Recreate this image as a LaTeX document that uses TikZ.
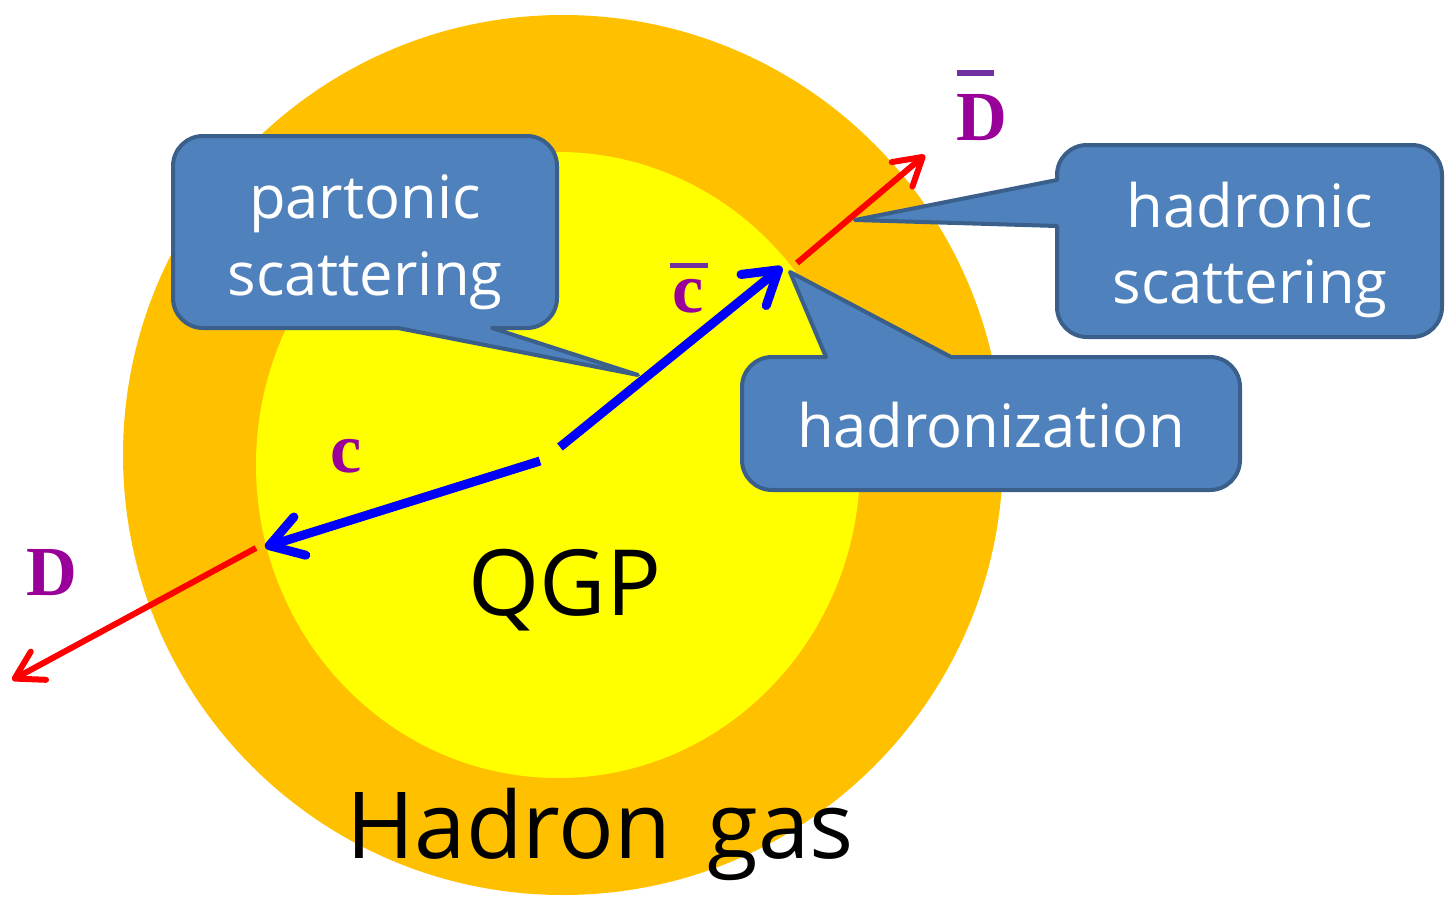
\documentclass[tikz,border=0pt]{standalone}
\usepackage{fontspec}
\setmainfont{Liberation Serif}
\newfontfamily\calloutfont{Open Sans}
\usetikzlibrary{arrows.meta}
\definecolor{hgorange}{HTML}{FFC000}
\definecolor{qgpyellow}{HTML}{FFFF00}
\definecolor{calloutblue}{HTML}{4F81BD}
\definecolor{calloutedge}{HTML}{3A5F8B}
\definecolor{flavourpurple}{HTML}{990099}
\definecolor{barpurple}{HTML}{7030A0}
\tikzset{
  callout/.style={fill=calloutblue, draw=calloutedge, line width=0.04cm, line join=round},
  callouttext/.style={text=white, font=\calloutfont\fontsize{17}{21.8}\selectfont, align=center, inner sep=0pt},
  quark/.style={draw=blue, line width=0.09cm, -{Straight Barb[length=0.32cm, width=0.4cm, round]}},
  meson/.style={draw=red, line width=0.06cm, -{Straight Barb[length=0.27cm, width=0.32cm, round]}},
  flavour/.style={text=flavourpurple, font=\bfseries\fontsize{20}{20}\selectfont, inner sep=0pt, anchor=base},
  antibar/.style={draw=barpurple, line width=0.05cm},
  bigtext/.style={font=\calloutfont\fontsize{#1}{#1}\selectfont, inner sep=0pt, anchor=base},
}
\begin{document}
\begin{tikzpicture}[x=0.01cm, y=-0.01cm]
    \useasboundingbox (0,0) rectangle (1448,903);
    % media
    \fill[hgorange] (563,455) circle [radius=440];
    \fill[qgpyellow] (558,465) ellipse [x radius=302, y radius=313];
    \node[bigtext=26] (qgp) at (565,615) {QGP};
    \node[bigtext=26.3] (hgas) at (600,858) {Hadron\hspace{0.12cm} gas};

    % quark pair and mesons
    \coordinate (c0) at (540,461);
    \coordinate (c1) at (265,547);
    \coordinate (cb0) at (560,447);
    \coordinate (cb1) at (782,267);
    \coordinate (d0) at (256,548);
    \coordinate (d1) at (12,680);
    \coordinate (db0) at (797,263);
    \coordinate (db1) at (925,155);
    \draw[quark] (c0) -- (c1);
    \draw[quark] (cb0) -- (cb1);
    \draw[meson] (d0) -- (d1);
    \draw[meson] (db0) -- (db1);

    \node[flavour] (c) at (346,472) {c};
    \node[flavour] (cbar) at (688,312) {c};
    \draw[antibar] (670,265) -- (708,265);
    \node[flavour] (d) at (52,595) {D};
    \node[flavour] (dbar) at (982,140) {D};
    \draw[antibar] (957,73) -- (994,73);

    % callouts
    \draw[callout, rounded corners=0.3cm] (365,136) -- (173,136) -- (173,328)
        [sharp corners] -- (398,328) -- (638,375) -- (492,328) [rounded corners=0.3cm] -- (557,328) -- (557,136) -- cycle;
    \node[callouttext] (parton) at (365,242) {partonic\\scattering};

    \draw[callout, rounded corners=0.3cm] (1250,337) -- (1442,337) -- (1442,145) -- (1057,145)
        [sharp corners] -- (1057,180) -- (855,220) -- (1057,226) [rounded corners=0.3cm] -- (1057,337) -- cycle;
    \node[callouttext] (hadron) at (1250,250) {hadronic\\scattering};

    \draw[callout, rounded corners=0.3cm] (990,490) -- (1240,490) -- (1240,357)
        [sharp corners] -- (951,357) -- (790,272) -- (826,357) [rounded corners=0.3cm] -- (742,357) -- (742,490) -- cycle;
    \node[callouttext] (hadronize) at (991,425) {hadronization};
\end{tikzpicture}
\end{document}
